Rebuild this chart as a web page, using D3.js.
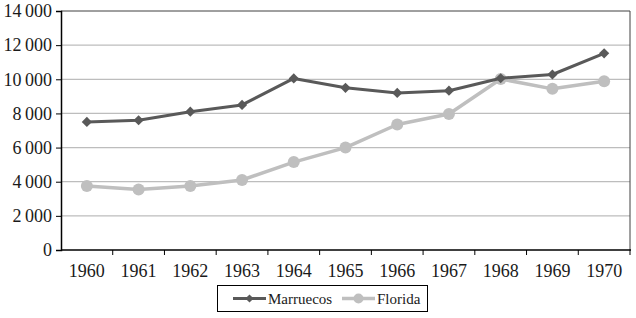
<!DOCTYPE html>
<html>
<head>
<meta charset="utf-8">
<script src="https://cdn.jsdelivr.net/npm/d3@7"></script>
<style>
  body { margin: 0; background: #fff; }
  svg text { font-family: "Liberation Serif", "DejaVu Serif", serif; fill: #1a1a1a; }
</style>
</head>
<body>
<svg width="636" height="318"></svg>
<script>
// data
const years = ['1960','1961','1962','1963','1964','1965','1966','1967','1968','1969','1970'];
const marruecos = [7500, 7600, 8100, 8500, 10050, 9500, 9200, 9330, 10060, 10280, 11520];
const florida = [3750, 3550, 3750, 4100, 5150, 6000, 7350, 7970, 10020, 9440, 9880];
const yTicks = [0, 2000, 4000, 6000, 8000, 10000, 12000, 14000];

const svg = d3.select('svg');
const mLeft = 61, mRight = 630, mTop = 11, mBottom = 250;

const x = d3.scaleBand().domain(years).range([mLeft, mRight]);
const y = d3.scaleLinear().domain([0, 14000]).range([mBottom, mTop]);

const fmt = d => d >= 1000 ? d3.format(',')(d).replace(',', '\u2009') : String(d);

// gridlines
svg.append('g').selectAll('line')
    .data(yTicks.slice(1))
    .enter().append('line')
    .attr('x1', mLeft).attr('x2', mRight)
    .attr('y1', d => y(d)).attr('y2', d => y(d))
    .attr('stroke', d => d === 14000 ? '#404040' : '#bdbdbd')
    .attr('stroke-width', d => d === 14000 ? 1 : 1.3);

// right border
svg.append('line')
    .attr('x1', mRight).attr('x2', mRight).attr('y1', mTop).attr('y2', mBottom)
    .attr('stroke', '#404040').attr('stroke-width', 1);

// y axis
const yAxis = svg.append('g')
    .attr('transform', `translate(${mLeft},0)`)
    .call(d3.axisLeft(y).tickValues(yTicks).tickFormat(fmt).tickSize(5).tickPadding(4));
yAxis.select('.domain').attr('stroke', '#000').attr('stroke-width', 1.5);
yAxis.selectAll('.tick line').attr('stroke', '#000');
yAxis.selectAll('text').attr('font-size', 18).attr('fill', '#1a1a1a')
    .attr('font-family', '"Liberation Serif", serif');

// x axis: ticks at band boundaries
const xAxis = svg.append('g')
    .attr('transform', `translate(0,${mBottom})`);
xAxis.append('line')
    .attr('x1', mLeft).attr('x2', mRight + 1)
    .attr('stroke', '#000').attr('stroke-width', 1.5);
xAxis.selectAll('.tk')
    .data(years)
    .enter().append('line')
    .attr('x1', d => x(d) + x.bandwidth())
    .attr('x2', d => x(d) + x.bandwidth())
    .attr('y1', 0).attr('y2', 5)
    .attr('stroke', '#000');
xAxis.selectAll('text')
    .data(years)
    .enter().append('text')
    .attr('x', d => x(d) + x.bandwidth() / 2)
    .attr('y', 27)
    .attr('text-anchor', 'middle')
    .attr('font-size', 18)
    .text(d => d);

const line = d3.line()
    .x((d, i) => x(years[i]) + x.bandwidth() / 2)
    .y(d => y(d));

// Florida (drawn first, below)
svg.append('path')
    .datum(florida)
    .attr('d', line)
    .attr('fill', 'none')
    .attr('stroke', '#bfbfbf')
    .attr('stroke-width', 3.5)
    .attr('stroke-linejoin', 'round');
svg.append('g').selectAll('circle')
    .data(florida)
    .enter().append('circle')
    .attr('cx', (d, i) => x(years[i]) + x.bandwidth() / 2)
    .attr('cy', d => y(d))
    .attr('r', 6)
    .attr('fill', '#bfbfbf');

// Marruecos
svg.append('path')
    .datum(marruecos)
    .attr('d', line)
    .attr('fill', 'none')
    .attr('stroke', '#595959')
    .attr('stroke-width', 3)
    .attr('stroke-linejoin', 'round');
const diamond = d3.symbol().type(d3.symbolSquare).size(52);
svg.append('g').selectAll('path')
    .data(marruecos)
    .enter().append('path')
    .attr('d', diamond)
    .attr('transform', (d, i) => `translate(${x(years[i]) + x.bandwidth() / 2},${y(d)}) rotate(45)`)
    .attr('fill', '#595959');

// legend
const legend = svg.append('g');
legend.append('rect')
    .attr('x', 217.5).attr('y', 285.5)
    .attr('width', 210).attr('height', 26)
    .attr('fill', '#fff').attr('stroke', '#000').attr('stroke-width', 1);

const series = [
    {name: 'Marruecos', color: '#595959', x0: 233, w: 3, shape: 'diamond'},
    {name: 'Florida', color: '#bfbfbf', x0: 342, w: 3.5, shape: 'circle'}
];
series.forEach(s => {
    legend.append('line')
        .attr('x1', s.x0).attr('x2', s.x0 + 33)
        .attr('y1', 298.5).attr('y2', 298.5)
        .attr('stroke', s.color).attr('stroke-width', s.w);
    if (s.shape === 'diamond') {
        legend.append('path')
            .attr('d', d3.symbol().type(d3.symbolSquare).size(34))
            .attr('transform', `translate(${s.x0 + 16.5},298.5) rotate(45)`)
            .attr('fill', s.color);
    } else {
        legend.append('circle')
            .attr('cx', s.x0 + 16.5).attr('cy', 298.5).attr('r', 5)
            .attr('fill', s.color);
    }
    legend.append('text')
        .attr('x', s.x0 + 35).attr('y', 303.5)
        .attr('font-size', 15)
        .attr('font-family', '"Liberation Serif", serif')
        .text(s.name);
});
</script>
</body>
</html>
